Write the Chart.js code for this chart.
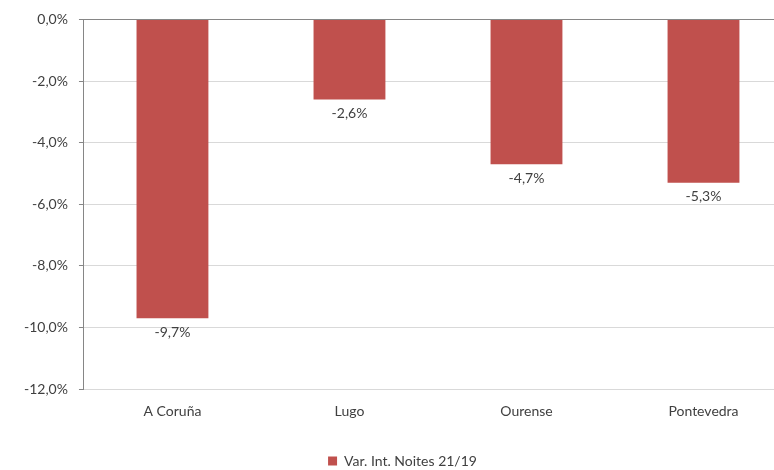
<!DOCTYPE html>
<html>
<head>
<meta charset="utf-8">
<script src="https://cdn.jsdelivr.net/npm/chart.js@4"></script>
<style>
  html, body { margin: 0; padding: 0; background: #fff; overflow: hidden; }
  #wrap { width: 816px; height: 478px; }
</style>
</head>
<body>
<div id="wrap"><canvas id="chart" width="816" height="478"></canvas></div>
<script>
  const categories = ["A Coruña", "Lugo", "Ourense", "Pontevedra"];
  const variation = [-9.7, -2.6, -4.7, -5.3];
  const seriesName = "Var. Int. Noites 21/19";
  const yMin = -12;
  const yMax = 0;
  const yStep = 2;

  const fmt = (v) => v.toFixed(1).replace(".", ",") + "%";

  // labels under each bar end
  const barLabels = {
    id: "barLabels",
    afterDatasetsDraw(chart) {
      const ctx = chart.ctx;
      const meta = chart.getDatasetMeta(0);
      ctx.save();
      ctx.font = "14px Lato";
      ctx.fillStyle = "#404040";
      ctx.textAlign = "center";
      ctx.textBaseline = "middle";
      meta.data.forEach((bar, i) => {
        ctx.fillText(fmt(variation[i]), bar.x, bar.y + 14);
      });
      ctx.restore();
    },
  };

  Chart.defaults.font.family = "Lato";
  Chart.defaults.font.size = 14;
  Chart.defaults.color = "#404040";

  new Chart(document.getElementById("chart"), {
    type: "bar",
    data: {
      labels: categories,
      datasets: [
        {
          label: seriesName,
          data: variation,
          backgroundColor: "#C0504D",
          categoryPercentage: 1,
          barPercentage: 0.406,
        },
      ],
    },
    options: {
      responsive: false,
      animation: false,
      layout: { padding: { top: 10, left: 13, right: 24, bottom: 0 } },
      plugins: {
        tooltip: { enabled: false },
        legend: {
          position: "bottom",
          labels: {
            boxWidth: 9,
            boxHeight: 9,
            padding: 28,
            color: "#404040",
          },
        },
      },
      scales: {
        x: {
          grid: { display: false },
          border: { display: false },
          ticks: { padding: 6 },
        },
        y: {
          min: yMin,
          max: yMax,
          ticks: {
            stepSize: yStep,
            padding: 11,
            callback: (v) => fmt(v),
          },
          grid: {
            color: (c) => (c.tick && c.tick.value === 0 ? "#868686" : "#d9d9d9"),
            tickLength: 5,
            tickColor: "#868686",
          },
          border: { color: "#868686" },
        },
      },
    },
    plugins: [barLabels],
  });
</script>
</body>
</html>
